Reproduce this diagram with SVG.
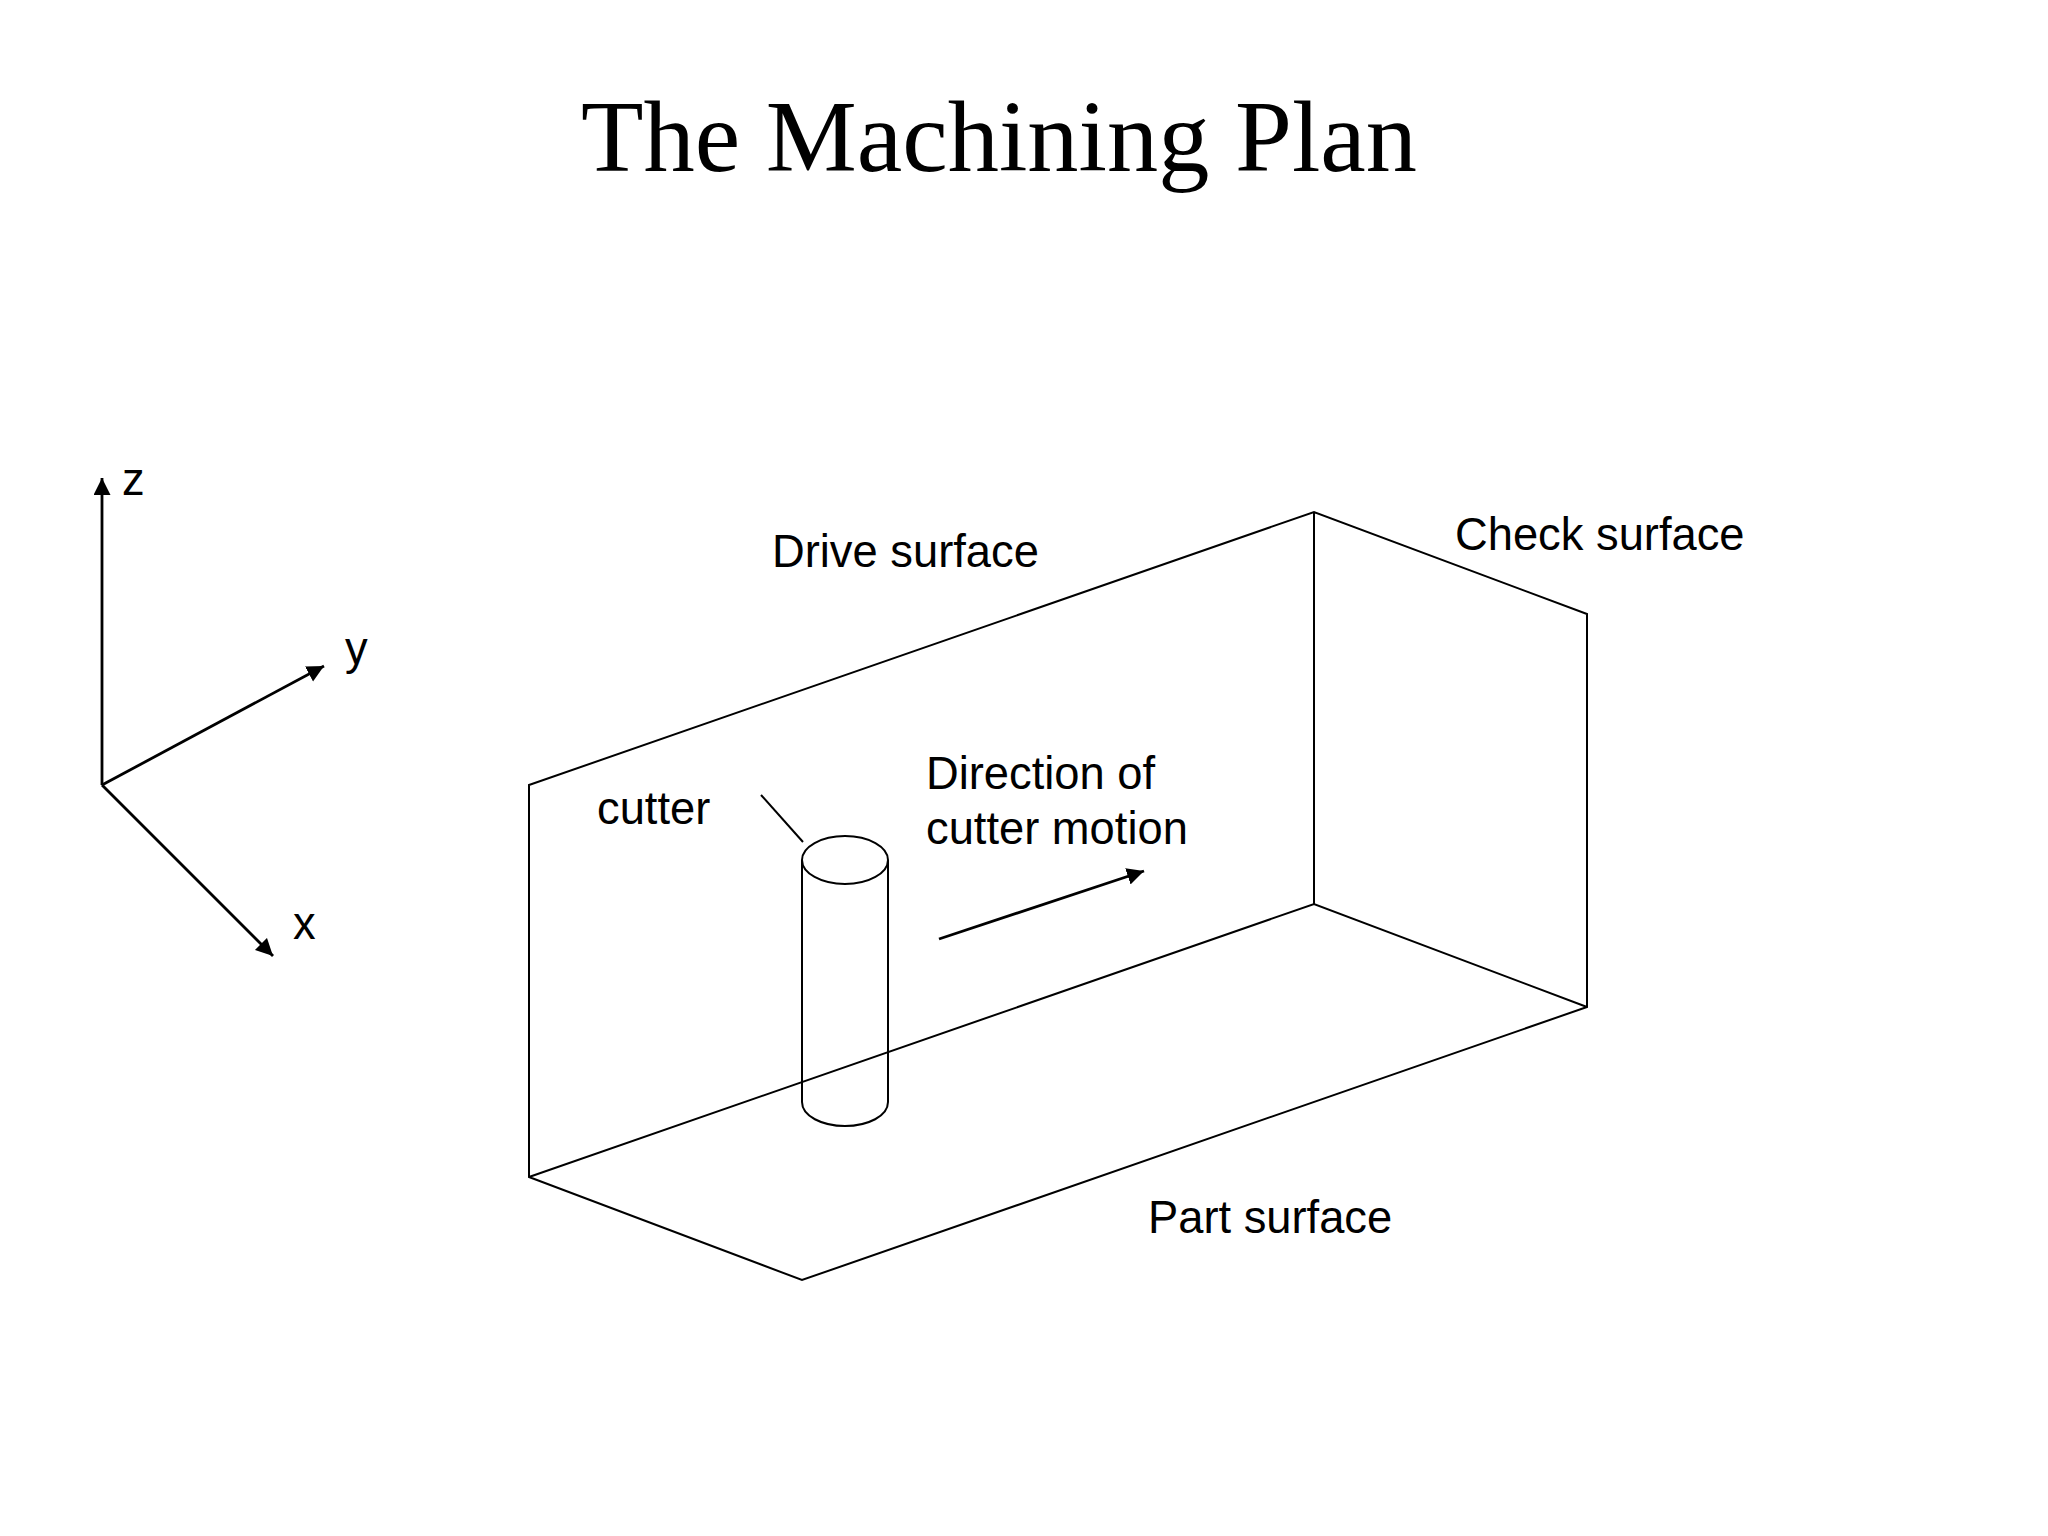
<svg xmlns="http://www.w3.org/2000/svg" width="2048" height="1536" viewBox="0 0 2048 1536">
<style>
.l{fill:none;stroke:#000;stroke-width:2}
.a{fill:none;stroke:#000;stroke-width:2.8}
.t{font-family:"Liberation Sans",Arial,sans-serif;font-size:45.3px;fill:#000}
</style>
<defs><marker id="h" markerUnits="userSpaceOnUse" markerWidth="20" markerHeight="18" refX="17" refY="8.5" orient="auto"><path d="M0 0L17 8.5L0 17z" fill="#000"/></marker></defs>
<rect width="2048" height="1536" fill="#fff"/>
<text x="999" y="171" text-anchor="middle" font-family="Liberation Serif,serif" font-size="102.4">The Machining Plan</text>
<g id="box">
<path class="l" d="M529 785L1314 512L1587 614V1007L802 1280L529 1177ZM529 1177L1314 904L1587 1007M1314 512V904"/>
</g>
<g id="cutter">
<ellipse class="l" cx="845" cy="860" rx="43" ry="24"/>
<path class="l" d="M802 860V1102C802 1116 822 1126 845 1126S888 1116 888 1102V860"/>
<path class="l" d="M761 795L803 842"/>
</g>
<g id="connectors">
<path class="a" d="M102 785V478" marker-end="url(#h)"/>
<path class="a" d="M102 785L324 666" marker-end="url(#h)"/>
<path class="a" d="M102 785L273 956" marker-end="url(#h)"/>
<path class="a" d="M939 939L1144 871" marker-end="url(#h)"/>
</g>
<g id="labels">
<text class="t" x="122" y="495">z</text>
<text class="t" x="345" y="664">y</text>
<text class="t" x="293" y="939">x</text>
<text class="t" x="772" y="567">Drive surface</text>
<text class="t" x="1455" y="550">Check surface</text>
<text class="t" x="597" y="824">cutter</text>
<text class="t" x="926" y="789">Direction of</text>
<text class="t" x="926" y="844">cutter motion</text>
<text class="t" x="1148" y="1233">Part surface</text>
</g>
</svg>
